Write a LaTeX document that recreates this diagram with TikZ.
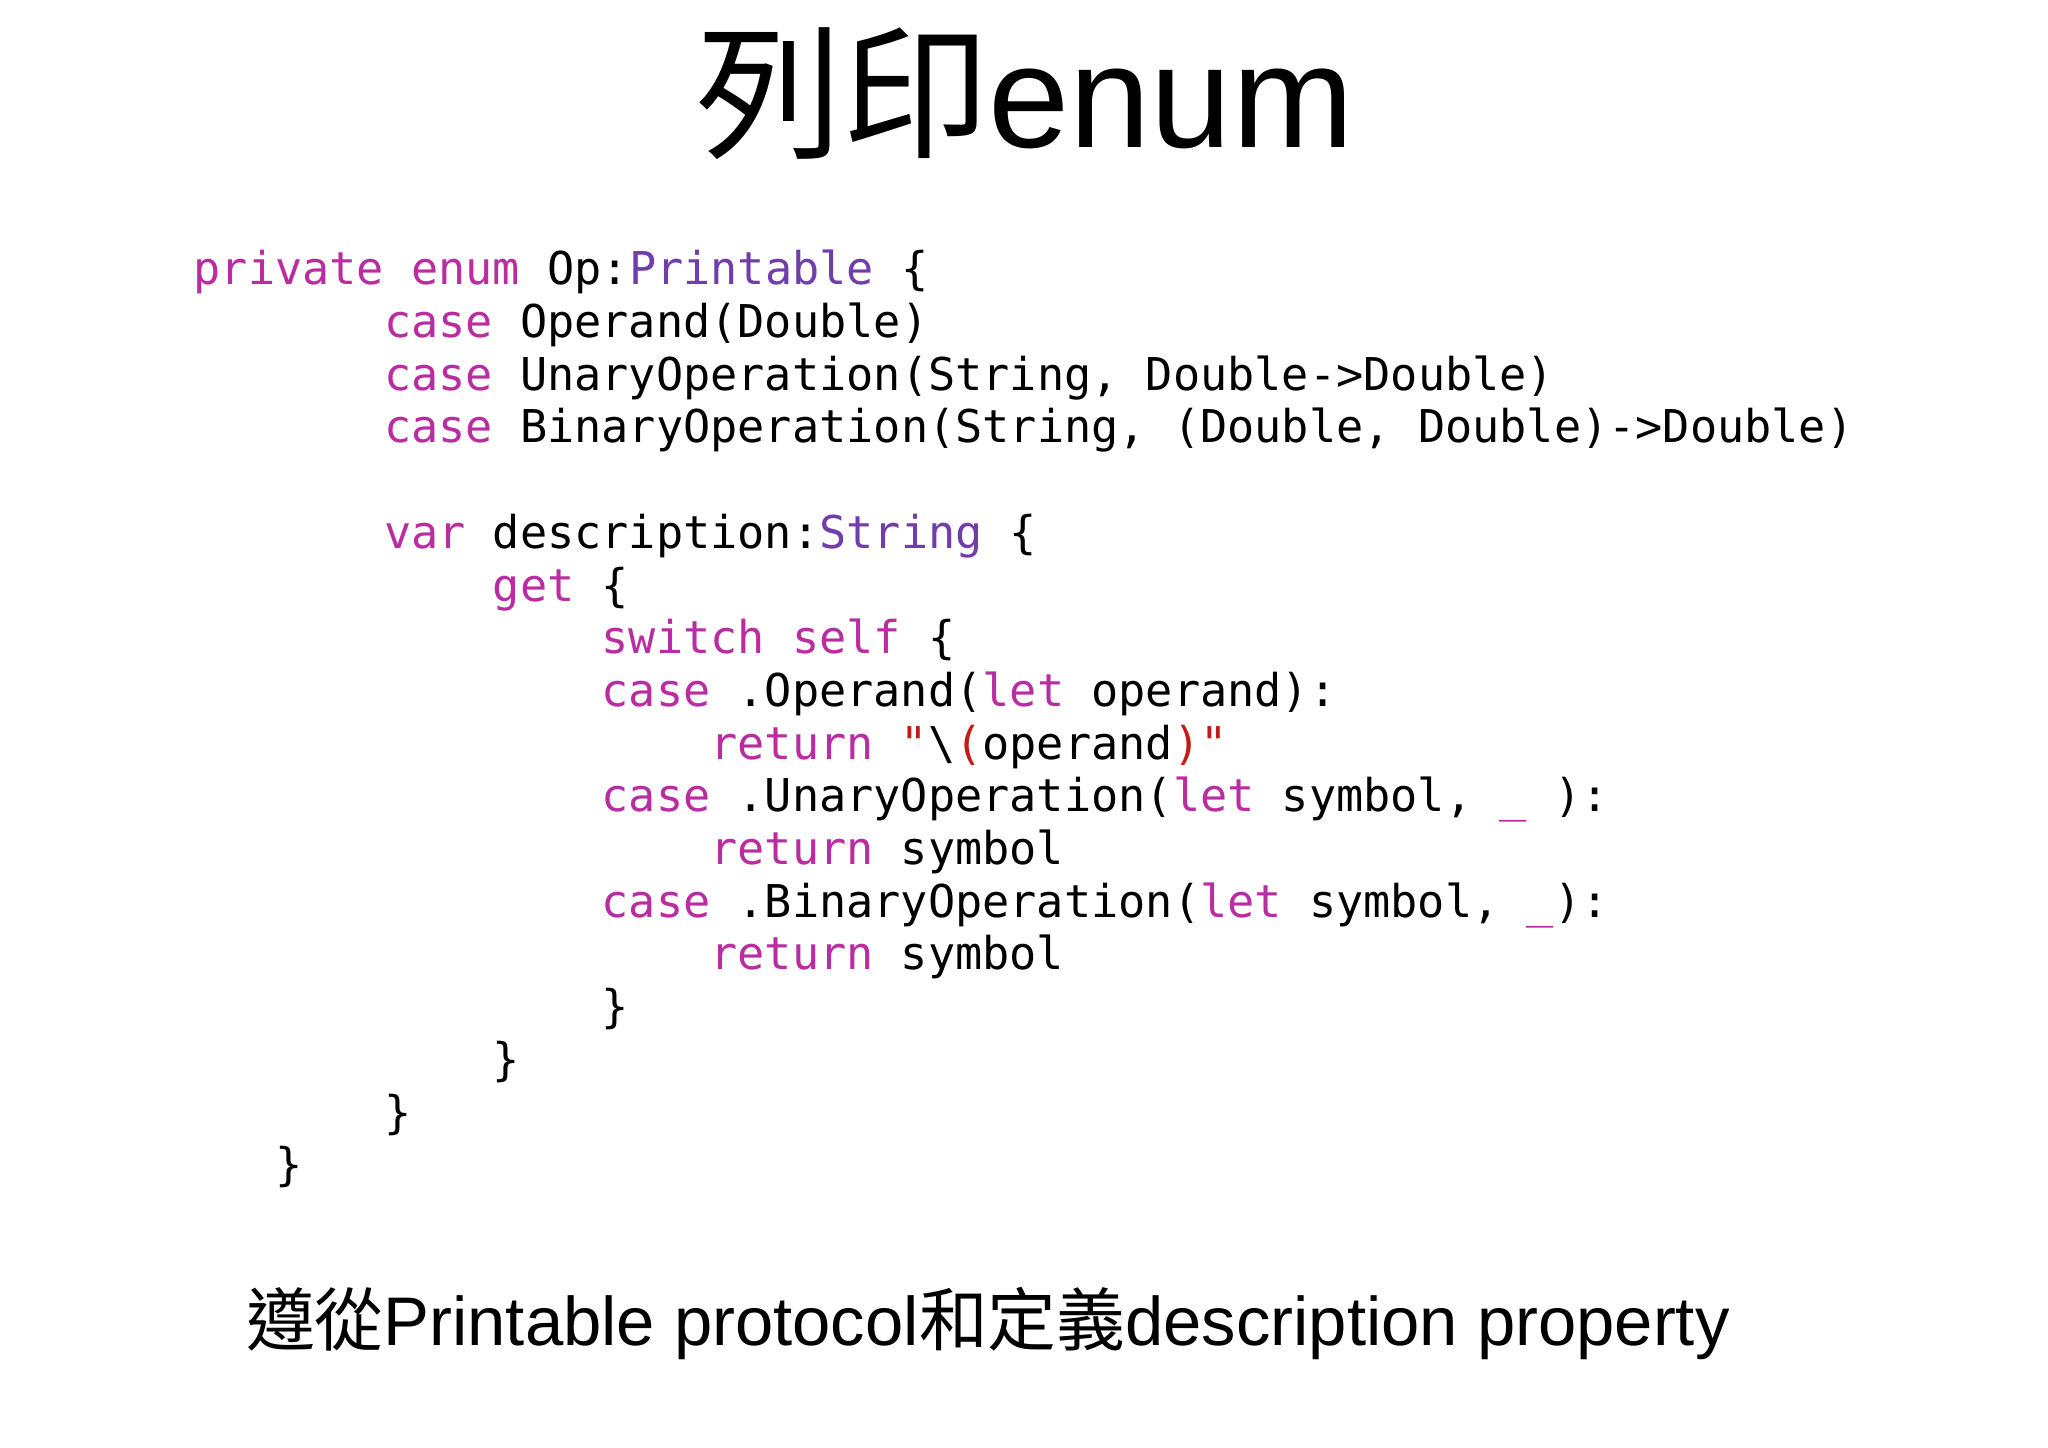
\documentclass[tikz,border=0pt]{standalone}
\usepackage{fontspec}
\setmainfont{Liberation Sans}
\newfontfamily\codefont{DejaVu Sans Mono}
\newfontfamily\cjk{Noto Sans CJK TC}
\definecolor{kwc}{RGB}{186,45,162}
\definecolor{tyc}{RGB}{112,61,170}
\definecolor{rdc}{RGB}{196,26,22}
\newcommand{\kw}[1]{\textcolor{kwc}{#1}}
\newcommand{\ty}[1]{\textcolor{tyc}{#1}}
\newcommand{\rd}[1]{\textcolor{rdc}{#1}}
\begin{document}
\begin{tikzpicture}[x=1pt,y=1pt,
  codeline/.style={anchor=base west,inner sep=0pt,font=\codefont\fontsize{22.6}{26}\selectfont}]
\useasboundingbox (0,0) rectangle (1024,-723.5);
\fill[white] (0,0) rectangle (1024,-723.5);
\node[anchor=base,inner sep=0pt,font=\fontsize{73}{84}\selectfont] (title) at (512.6,-73.8) {{\cjk 列印}enum};
\def\cw{13.6}
\def\lh{26.35}
\foreach \i/\ind/\txt in {
 0/0/{\kw{private} \kw{enum} Op:\ty{Printable} \{},
 1/7/{\kw{case} Operand(Double)},
 2/7/{\kw{case} UnaryOperation(String, Double->Double)},
 3/7/{\kw{case} BinaryOperation(String, (Double, Double)->Double)},
 5/7/{\kw{var} description:\ty{String} \{},
 6/11/{\kw{get} \{},
 7/15/{\kw{switch} \kw{self} \{},
 8/15/{\kw{case} .Operand(\kw{let} operand):},
 9/19/{\kw{return} \rd{"}\textbackslash\rd{(}operand\rd{)"}},
 10/15/{\kw{case} .UnaryOperation(\kw{let} symbol, \kw{\_} ):},
 11/19/{\kw{return} symbol},
 12/15/{\kw{case} .BinaryOperation(\kw{let} symbol, \kw{\_}):},
 13/19/{\kw{return} symbol},
 14/15/{\}},
 15/11/{\}},
 16/7/{\}},
 17/3/{\}}}
 \node[codeline] (line\i) at ({96.6+\ind*\cw},{-142.4-\i*\lh}) {\txt};
\node[anchor=base west,inner sep=0pt,font=\fontsize{34.4}{40}\selectfont] (caption) at (122.8,-672.6) {{\cjk 遵從}Printable protocol{\cjk 和定義}description property};
\end{tikzpicture}
\end{document}
